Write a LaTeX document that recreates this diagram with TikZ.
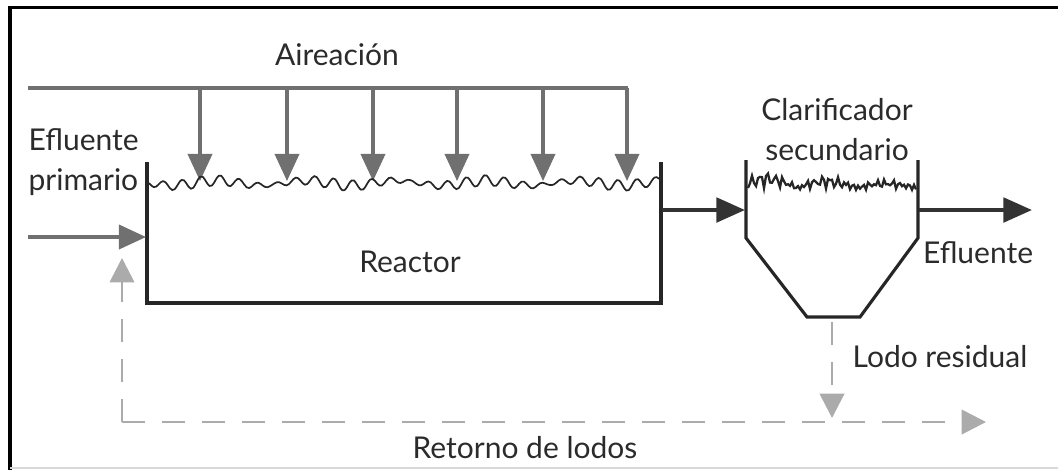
\documentclass[tikz,border=0pt]{standalone}
\usepackage{fontspec}
\setmainfont{Lato}
\usetikzlibrary{arrows.meta}
\definecolor{airgray}{HTML}{707070}
\definecolor{dashgray}{HTML}{ABABAB}
\definecolor{txtgray}{HTML}{2B2B2B}
\tikzset{
  lbl/.style={text=txtgray, font=\fontsize{10.5}{14}\selectfont, inner sep=0pt},
  wall/.style={line width=1.1pt, black!85, line join=miter},
  air/.style={line width=1.1pt, airgray, -{Triangle[width=8.5pt,length=9.5pt]}},
  flow/.style={line width=1.5pt, black!80, -{Triangle[width=8.5pt,length=10pt]}},
  ret/.style={line width=1pt, dashgray, dash pattern=on 8pt off 6pt, -{Triangle[width=8.5pt,length=8.5pt]}},
}

\begin{document}
\begin{tikzpicture}[x=0.35pt,y=-0.35pt]
\useasboundingbox (0,0) rectangle (1058,470);
\draw[line width=1.1pt] (10,470) -- (10,7.5) -- (1058,7.5);
\draw[black!15, line width=0.5pt] (10,468) -- (1058,468);

\node[lbl] (aire) at (337,55) {Aireación};
\coordinate (hdl) at (28,88);
\coordinate (hdr) at (628,88);
\draw[airgray, line width=1.1pt] (hdl) -- (hdr);
\foreach \x [count=\i] in {200,287,373,457,543,627} {
  \coordinate (a\i) at (\x,88);
  \coordinate (s\i) at (\x,181);
  \draw[air] (a\i) -- (s\i);
}

\coordinate (rtl) at (147,162);
\coordinate (rbl) at (147,303);
\coordinate (rbr) at (661,303);
\coordinate (rtr) at (661,162);
\draw[wall] (rtl) -- (rbl) -- (rbr) -- (rtr);
\draw[black!85, line width=0.6pt] plot[smooth, domain=0:510, samples=220]
  ({149+\x},{183+(1.5+4*abs(sin(1.3*\x+20)))*sin(19*\x)+2.5*sin(4*\x)});
\node[lbl] (reac) at (410,262) {Reactor};

\node[lbl, align=left, anchor=north west] (efp) at (28,128) {Efluente\\primario};
\coordinate (inl) at (28,237);
\coordinate (inr) at (146,237);
\draw[air] (inl) -- (inr);

\coordinate (ctl) at (746,160);
\coordinate (cml) at (746,238);
\coordinate (cbl) at (807,317);
\coordinate (cbr) at (860,317);
\coordinate (cmr) at (918,238);
\coordinate (ctr) at (918,160);
\draw[wall] (ctl) -- (cml) -- (cbl) -- (cbr) -- (cmr) -- (ctr);
\draw[black!85, line width=0.8pt] plot[domain=0:168, samples=85]
  ({748+\x},{188-(15-0.06*\x)*abs(sin(23*\x))*abs(sin(3*\x+30))+2.5*sin(71*\x)});
\node[lbl, align=center] (clar) at (837,130) {Clarificador\\secundario};

\coordinate (rout) at (662,210);
\coordinate (cin) at (745,210);
\draw[flow] (rout) -- (cin);
\coordinate (cout) at (919,210);
\coordinate (eout) at (1032,210);
\draw[flow] (cout) -- (eout);
\node[lbl] (efl) at (978,253) {Efluente};

\coordinate (lodtop) at (832,322);
\coordinate (lodbot) at (832,418);
\draw[ret] (lodtop) -- (lodbot);
\node[lbl] (lodo) at (940,357) {Lodo residual};

\coordinate (retc) at (122,422);
\coordinate (retl) at (122,258);
\coordinate (retr) at (986,422);
\draw[ret] (retc) -- (retl);
\draw[ret] (retc) -- (retr);
\node[lbl] (reto) at (525,448) {Retorno de lodos};
\end{tikzpicture}
\end{document}
